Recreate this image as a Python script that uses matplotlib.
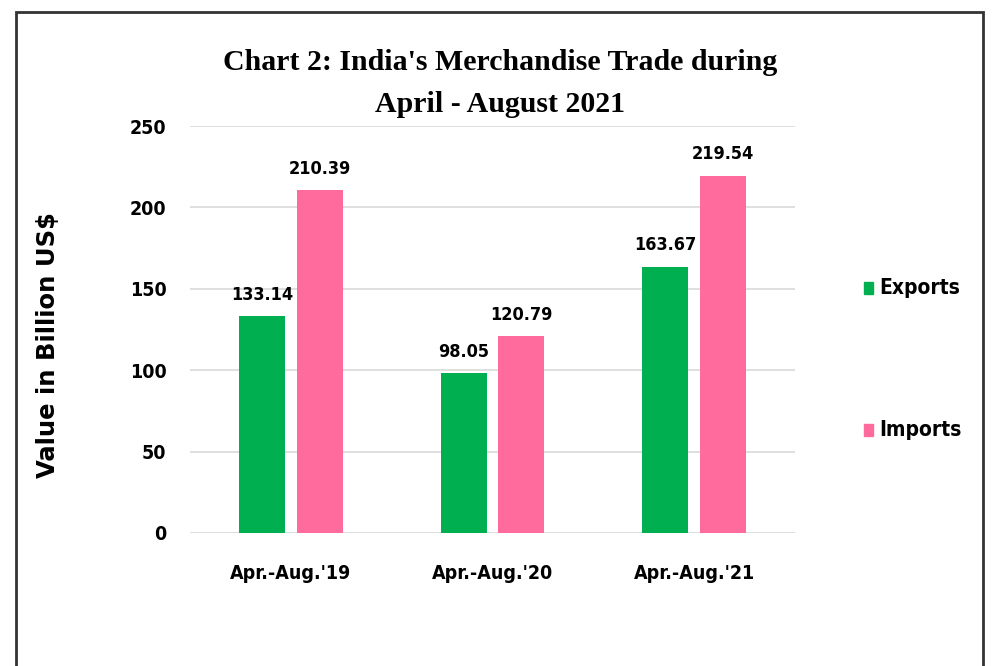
import matplotlib.pyplot as plt
import numpy as np
from matplotlib.patches import Rectangle

categories = ["Apr.-Aug.'19", "Apr.-Aug.'20", "Apr.-Aug.'21"]
exports = [133.14, 98.05, 163.67]
imports = [210.39, 120.79, 219.54]
yticks = [0, 50, 100, 150, 200, 250]

fig = plt.figure(figsize=(9.96, 6.66), dpi=100)
ax = fig.add_axes([190/996, 1-533/666, (795-190)/996, (533-126)/666])

x = np.arange(len(categories))
w = 0.228
off = 0.143
green = '#00B050'
pink = '#FF6B9C'
b1 = ax.bar(x - off, exports, w, color=green, label='Exports', zorder=3)
b2 = ax.bar(x + off, imports, w, color=pink, label='Imports', zorder=3)

lblfont = dict(family='DejaVu Sans', fontstretch='condensed', fontweight='bold', fontsize=13)
for bars, vals in ((b1, exports), (b2, imports)):
    for r, v in zip(bars, vals):
        ax.annotate(f"{v:.2f}", (r.get_x() + r.get_width()/2, v), xytext=(0, 9),
                    textcoords='offset points', ha='center', va='bottom', **lblfont)

ax.set_xlim(-0.5, 2.5)
ax.set_ylim(0, 250)
ax.set_yticks(yticks)
ax.set_yticklabels([str(t) for t in yticks], **{**lblfont, 'fontsize': 14})
ax.set_xticks(x)
ax.set_xticklabels(categories, **{**lblfont, 'fontsize': 14})
ax.tick_params(axis='both', length=0)
ax.tick_params(axis='x', pad=22)
ax.tick_params(axis='y', pad=17)
ax.grid(axis='y', color='#D9D9D9', linewidth=1.2, zorder=0)
for s in ax.spines.values():
    s.set_visible(False)

ax.set_ylabel('Value in Billion US$', fontsize=17.5, fontweight='bold', family='DejaVu Sans')
ax.yaxis.set_label_coords((60-190)/605, 1-(345-126)/407)

fig.text(500/996, 1-62/666, "Chart 2: India's Merchandise Trade during", ha='center', va='center',
         fontsize=21.5, fontweight='bold', family='Liberation Serif')
fig.text(500/996, 1-104/666, "April - August 2021", ha='center', va='center',
         fontsize=21.5, fontweight='bold', family='Liberation Serif')

# legend
for lab, col, yy in (("Exports", green, 288), ("Imports", pink, 430)):
    fig.patches.append(Rectangle((864/996, 1-(yy+6)/666), 9/996, 12/666, transform=fig.transFigure,
                                 color=col, figure=fig))
    fig.text(879/996, 1-yy/666, lab, ha='left', va='center', **{**lblfont, 'fontsize': 15})

# outer border
fig.patches.append(Rectangle((16/996, -0.05), (983-16)/996, 1.05-12/666, transform=fig.transFigure,
                             fill=False, edgecolor='#333333', linewidth=2, figure=fig))

fig.savefig('out.png', dpi=100)
